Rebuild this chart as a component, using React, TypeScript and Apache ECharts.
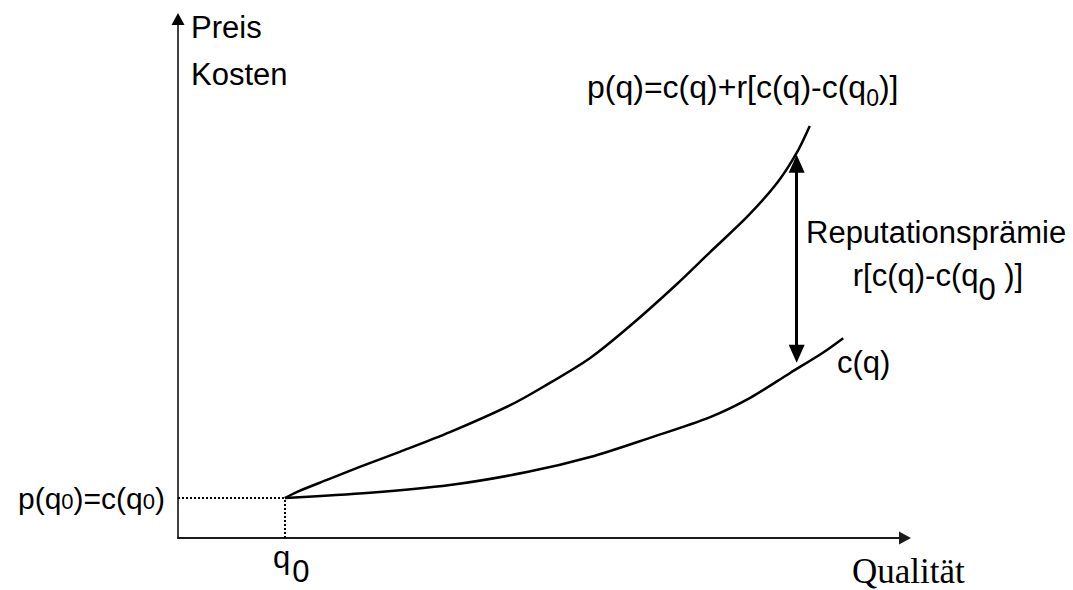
import { useEffect, useRef } from "react";
import * as echarts from "echarts";

// Preis-Kurve p(q) = c(q) + r[c(q) - c(q0)]
const priceQ = [14.7, 16.4, 20.5, 25.0, 30.5, 37.4, 45.7, 50.2, 56.7, 62.2, 68.6, 73.2, 78.3, 82.4, 85.1, 86.9];
const priceP = [7.7, 8.9, 11.2, 13.7, 16.6, 20.4, 25.6, 29.1, 34.7, 40.9, 48.9, 55.1, 61.9, 68.4, 74.2, 79.4];

// Kosten-Kurve c(q)
const costQ = [14.7, 26.4, 37.4, 48.0, 56.7, 64.9, 73.2, 78.7, 84.2, 88.7, 91.5];
const costC = [7.7, 8.7, 10.2, 12.7, 15.6, 19.3, 23.3, 27.0, 31.8, 35.7, 38.5];

// Mindestqualität q0 und zugehöriger Preis p(q0) = c(q0)
const q0 = 14.7;
const c0 = 7.7;

// Doppelpfeil der Reputationsprämie
const premiumQ = 85.1;
const premiumFrom = 35.5;
const premiumTo = 72.1;

const axisMax = 100;

const SANS = '"Liberation Sans", Arial, sans-serif';
const SERIF = '"Liberation Serif", "Times New Roman", serif';

export default function App() {
  const ref = useRef<HTMLDivElement>(null);

  useEffect(() => {
    if (!ref.current) return;
    const chart = echarts.init(ref.current, null, { renderer: "svg" });

    const base = { fontSize: 31, fontFamily: SANS, fill: "#000" };

    chart.setOption({
      animation: false,
      backgroundColor: "#fff",
      grid: { left: 178, right: 168, top: 19, bottom: 52 },
      xAxis: {
        type: "value",
        min: 0,
        max: axisMax,
        axisLine: {
          show: true,
          symbol: ["none", "triangle"],
          symbolSize: [13, 12],
          lineStyle: { color: "#1a1a1a", width: 2 },
        },
        axisTick: { show: false },
        axisLabel: { show: false },
        splitLine: { show: false },
      },
      yAxis: {
        type: "value",
        min: 0,
        max: axisMax,
        axisLine: {
          show: true,
          symbol: ["none", "triangle"],
          symbolSize: [13, 12],
          lineStyle: { color: "#000", width: 1.5 },
        },
        axisTick: { show: false },
        axisLabel: { show: false },
        splitLine: { show: false },
      },
      series: [
        {
          name: "p(q)",
          type: "line",
          data: priceQ.map((q, i) => [q, priceP[i]]),
          smooth: 0.3,
          showSymbol: false,
          silent: true,
          lineStyle: { color: "#000", width: 2.5 },
          markLine: {
            silent: true,
            label: { show: false },
            lineStyle: { color: "#000", width: 3, type: "solid" },
            symbol: ["triangle", "triangle"],
            symbolSize: [16, 18],
            data: [
              [
                { coord: [premiumQ, premiumFrom] },
                { coord: [premiumQ, premiumTo] },
              ],
            ],
          },
        },
        {
          name: "c(q)",
          type: "line",
          data: costQ.map((q, i) => [q, costC[i]]),
          smooth: 0.3,
          showSymbol: false,
          silent: true,
          lineStyle: { color: "#000", width: 2.5 },
          markLine: {
            silent: true,
            label: { show: false },
            symbol: ["none", "none"],
            lineStyle: { color: "#000", width: 2, type: [2, 2] },
            data: [
              [{ coord: [0, c0] }, { coord: [q0, c0] }],
              [{ coord: [q0, 0] }, { coord: [q0, c0] }],
            ],
          },
        },
      ],
      graphic: [
        { type: "text", x: 191, y: 27, style: { ...base, text: "Preis", verticalAlign: "middle" } },
        { type: "text", x: 191, y: 74, style: { ...base, text: "Kosten", verticalAlign: "middle" } },
        {
          type: "text",
          x: 587,
          y: 87,
          style: {
            ...base,
            text: "{n|p(q)=c(q)+r[c(q)-c(q}{s|0}{n|)]}",
            verticalAlign: "middle",
            rich: {
              n: { fontSize: 32, fontFamily: SANS },
              s: { fontSize: 23, fontFamily: SANS, padding: [22, 0, 0, 0] },
            },
          },
        },
        {
          type: "text",
          x: 806,
          y: 232,
          style: { ...base, text: "Reputationsprämie", verticalAlign: "middle" },
        },
        {
          type: "text",
          x: 938,
          y: 275,
          style: {
            ...base,
            text: "{n|r[c(q)-c(q}{s|0}{n| )]}",
            align: "center",
            verticalAlign: "middle",
            rich: {
              n: { fontSize: 31, fontFamily: SANS },
              s: { fontSize: 31, fontFamily: SANS, padding: [28, 0, 0, 0] },
            },
          },
        },
        { type: "text", x: 837, y: 362, style: { ...base, text: "c(q)", verticalAlign: "middle" } },
        {
          type: "text",
          x: 165,
          y: 498,
          style: {
            ...base,
            text: "{n|p(q}{s|0}{n|)=c(q}{s|0}{n|)}",
            align: "right",
            verticalAlign: "middle",
            rich: {
              n: { fontSize: 30, fontFamily: SANS },
              s: { fontSize: 22, fontFamily: SANS, padding: [7, 0, 0, 0] },
            },
          },
        },
        {
          type: "text",
          x: 273,
          y: 557,
          style: {
            ...base,
            text: "{n|q}{s|0}",
            verticalAlign: "middle",
            rich: {
              n: { fontSize: 31, fontFamily: SANS },
              s: { fontSize: 31, fontFamily: SANS, padding: [28, 0, 0, 2] },
            },
          },
        },
        {
          type: "text",
          x: 852,
          y: 571,
          style: { fontSize: 35, fontFamily: SERIF, fill: "#000", text: "Qualität", verticalAlign: "middle" },
        },
      ],
    });

    return () => chart.dispose();
  }, []);

  return (
    <div
      ref={ref}
      style={{ position: "fixed", left: 0, top: 0, width: 1073, height: 590, background: "#fff" }}
    />
  );
}
